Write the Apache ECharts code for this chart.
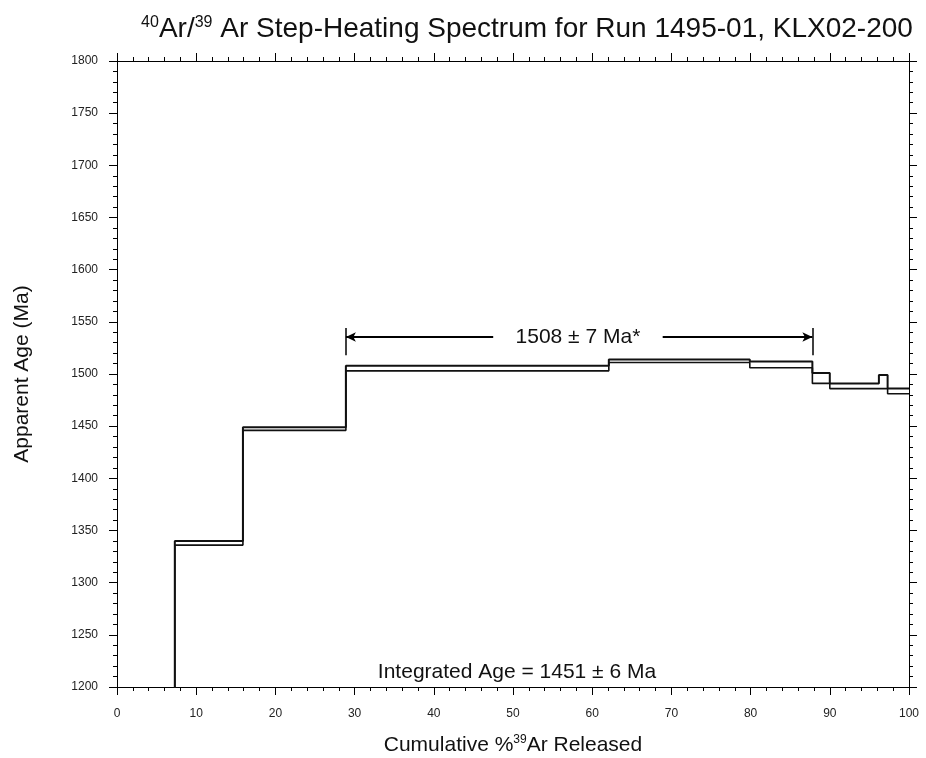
<!DOCTYPE html>
<html>
<head>
<meta charset="utf-8">
<script src="https://cdn.jsdelivr.net/npm/echarts@6/dist/echarts.min.js"></script>
<style>html,body{margin:0;padding:0;background:#fff}#c{width:926px;height:758px}</style>
</head>
<body>
<div id="c"></div>
<script>
// Step boundaries (cumulative % 39Ar released)
const stepEdges = [0, 7.3, 15.9, 28.9, 62.1, 79.9, 87.8, 90.0, 96.2, 97.3, 100];
// Upper and lower bounds of apparent age (Ma) for each step
const upperAge = [1100, 1340, 1449, 1508, 1514, 1512, 1501, 1491, 1499, 1486];
const lowerAge = [1090, 1336, 1446, 1503, 1511, 1506, 1491, 1486, 1486, 1481];
// Plateau
const plateauStart = 28.9, plateauEnd = 87.8, plateauAge = 1535.5;
const plateauText = '1508 ± 7 Ma*';
const integratedText = 'Integrated Age = 1451 ± 6 Ma';
const xTicks = {min: 0, max: 100, interval: 10};
const yTicks = {min: 1200, max: 1800, interval: 50};

function stepPoints(vals) {
  const pts = [];
  for (let i = 0; i < vals.length; i++) {
    pts.push([stepEdges[i], vals[i]]);
    pts.push([stepEdges[i + 1], vals[i]]);
  }
  return pts;
}

const FONT = 'Liberation Sans';
const chart = echarts.init(document.getElementById('c'), null, {renderer: 'canvas'});

function axisCommon() {
  return {
    type: 'value',
    axisLine: {show: true, onZero: false, lineStyle: {color: '#000', width: 1}},
    axisTick: {show: true, length: 8, lineStyle: {color: '#000', width: 1}},
    minorTick: {show: true, splitNumber: 5, length: 4, lineStyle: {color: '#000', width: 1}},
    splitLine: {show: false},
    minorSplitLine: {show: false}
  };
}

const option = {
  animation: false,
  backgroundColor: '#fff',
  title: {
    text: '{sup|40}Ar/{sup|39} Ar Step-Heating Spectrum for Run 1495-01, KLX02-200',
    left: 522, top: 10, textAlign: 'center',
    textStyle: {
      fontFamily: FONT, fontSize: 28, fontWeight: 'normal', color: '#111',
      rich: {sup: {fontFamily: FONT, fontSize: 16, verticalAlign: 'top', padding: [0, 0, 12, 0], color: '#111'}}
    }
  },
  grid: {left: 117, right: 17, top: 61, bottom: 71, containLabel: false, outerBoundsMode: 'none'},
  xAxis: [
    Object.assign(axisCommon(), {
      position: 'bottom', min: xTicks.min, max: xTicks.max, interval: xTicks.interval,
      axisLabel: {margin: 21, fontFamily: FONT, fontSize: 12, color: '#222'},
      name: 'Cumulative %{sup|39}Ar Released', nameLocation: 'middle', nameGap: 47,
      nameTextStyle: {fontFamily: FONT, fontSize: 21, color: '#111',
        rich: {sup: {fontFamily: FONT, fontSize: 12, verticalAlign: 'top', padding: [0, 0, 10, 0], color: '#111'}}}
    }),
    Object.assign(axisCommon(), {
      position: 'top', min: xTicks.min, max: xTicks.max, interval: xTicks.interval,
      axisLabel: {show: false}
    })
  ],
  yAxis: [
    Object.assign(axisCommon(), {
      position: 'left', min: yTicks.min, max: yTicks.max, interval: yTicks.interval,
      axisLabel: {margin: 19, fontFamily: FONT, fontSize: 12, color: '#222', formatter: v => String(v)},
      name: 'Apparent Age (Ma)', nameLocation: 'middle', nameGap: 84, nameRotate: 90,
      nameTextStyle: {fontFamily: FONT, fontSize: 21, color: '#111'}
    }),
    Object.assign(axisCommon(), {
      position: 'right', min: yTicks.min, max: yTicks.max, interval: yTicks.interval,
      axisLabel: {show: false}
    })
  ],
  series: [
    {
      type: 'line', data: stepPoints(upperAge), symbol: 'none', clip: true,
      lineStyle: {color: '#111', width: 2}, z: 3
    },
    {
      type: 'line', data: stepPoints(lowerAge), symbol: 'none', clip: true,
      lineStyle: {color: '#111', width: 1.6}, z: 3
    },
    {
      type: 'line', data: [], symbol: 'none', silent: true,
      markLine: {
        silent: true, symbol: ['arrow', 'none'], symbolSize: [7, 10],
        lineStyle: {color: '#000', width: 2, type: 'solid'},
        label: {show: false},
        data: [
          [{coord: [plateauStart, plateauAge], symbol: 'arrow'}, {coord: [47.5, plateauAge], symbol: 'none'}],
          [{coord: [68.9, plateauAge], symbol: 'none'}, {coord: [plateauEnd, plateauAge], symbol: 'arrow'}],
          [{coord: [plateauStart, 1518], symbol: 'none'}, {coord: [plateauStart, 1544], symbol: 'none', lineStyle: {width: 1.5}}],
          [{coord: [plateauEnd, 1518], symbol: 'none'}, {coord: [plateauEnd, 1544], symbol: 'none', lineStyle: {width: 1.5}}]
        ]
      },
      markPoint: {
        silent: true, symbol: 'circle', symbolSize: 0,
        label: {show: true, position: 'inside', formatter: plateauText, fontFamily: FONT, fontSize: 21, color: '#111'},
        data: [{coord: [(47.5 + 68.9) / 2, plateauAge]}]
      }
    }
  ],
  graphic: [
    {
      type: 'text', x: 517, y: 672,
      style: {text: integratedText, fontFamily: FONT, fontSize: 21, fill: '#111', textAlign: 'center', textVerticalAlign: 'middle'}
    }
  ]
};
chart.setOption(option);
</script>
</body>
</html>
